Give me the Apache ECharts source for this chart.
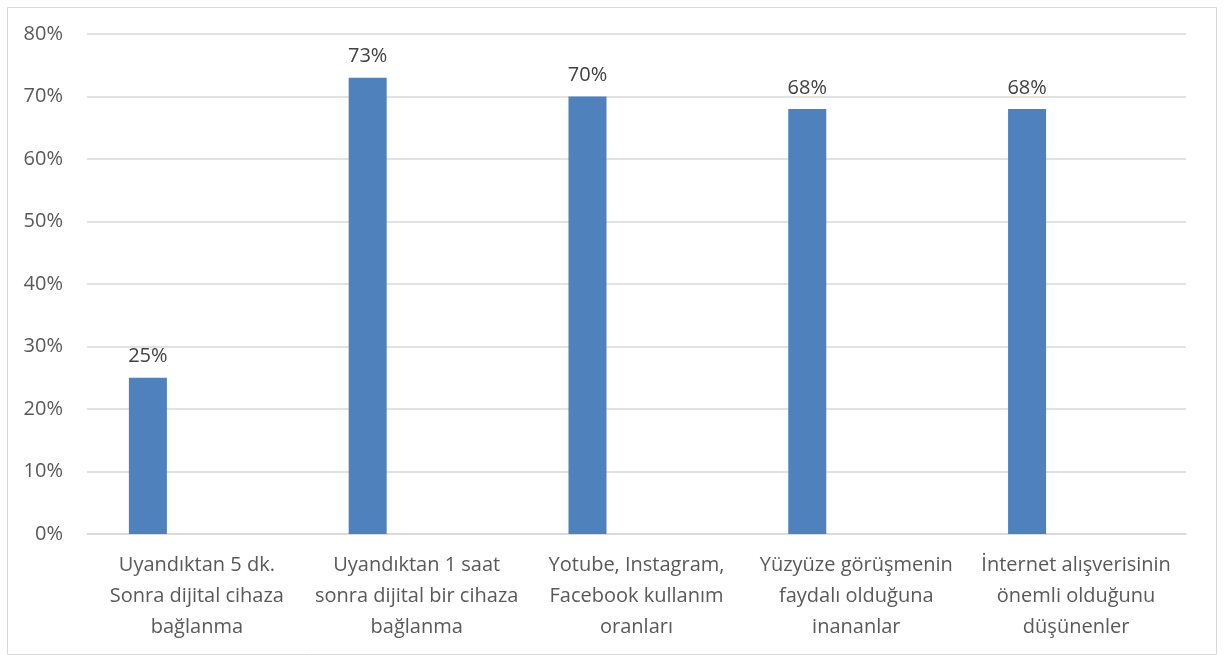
<!DOCTYPE html>
<html>
<head>
<meta charset="utf-8">
<script src="https://cdn.jsdelivr.net/npm/echarts@6/dist/echarts.min.js"></script>
<style>
html,body{margin:0;padding:0;background:#fff;}
#c{width:1227px;height:655px;}
</style>
</head>
<body>
<div id="c"></div>
<script>
const categories = [
  "Uyandıktan 5 dk.\nSonra dijital cihaza\nbağlanma",
  "Uyandıktan 1 saat\nsonra dijital bir cihaza\nbağlanma",
  "Yotube, Instagram,\nFacebook kullanım\noranları",
  "Yüzyüze görüşmenin\nfaydalı olduğuna\ninananlar",
  "İnternet alışverisinin\nönemli olduğunu\ndüşünenler"
];
const values = [25, 73, 70, 68, 68];
const emptySeries = [null, null, null, null, null];
const yMin = 0, yMax = 80, yStep = 10;

const chart = echarts.init(document.getElementById('c'), null, {renderer: 'canvas'});
chart.setOption({
  animation: false,
  backgroundColor: '#fff',
  textStyle: {fontFamily: 'Open Sans'},
  graphic: [{
    type: 'rect', left: 5, top: 5,
    shape: {width: 1209, height: 647},
    style: {fill: 'none', stroke: '#d9d9d9', lineWidth: 1}
  }],
  grid: {left: 87, right: 41, top: 34, bottom: 121, containLabel: false},
  xAxis: {
    type: 'category',
    data: categories,
    axisLine: {show: true, lineStyle: {color: '#d9d9d9', width: 1.5}},
    axisTick: {show: false},
    axisLabel: {
      interval: 0, color: '#595959', fontSize: 20, lineHeight: 31,
      margin: 16, fontFamily: 'Open Sans'
    }
  },
  yAxis: {
    type: 'value', min: yMin, max: yMax, interval: yStep,
    axisLine: {show: false}, axisTick: {show: false},
    splitLine: {lineStyle: {color: '#d9d9d9', width: 1.5}},
    axisLabel: {color: '#595959', fontSize: 20, margin: 24, formatter: v => v + '%', fontFamily: 'Open Sans'}
  },
  series: [
    {
      type: 'bar', data: values, barWidth: 38, barGap: '158%',
      itemStyle: {color: '#4f81bd'},
      label: {show: true, position: 'top', distance: 11, color: '#404040', fontSize: 20,
        formatter: p => p.value + '%', fontFamily: 'Open Sans'}
    },
    {
      type: 'bar', data: emptySeries, barWidth: 38, itemStyle: {color: '#c0504d'}
    }
  ]
});
</script>
</body>
</html>
